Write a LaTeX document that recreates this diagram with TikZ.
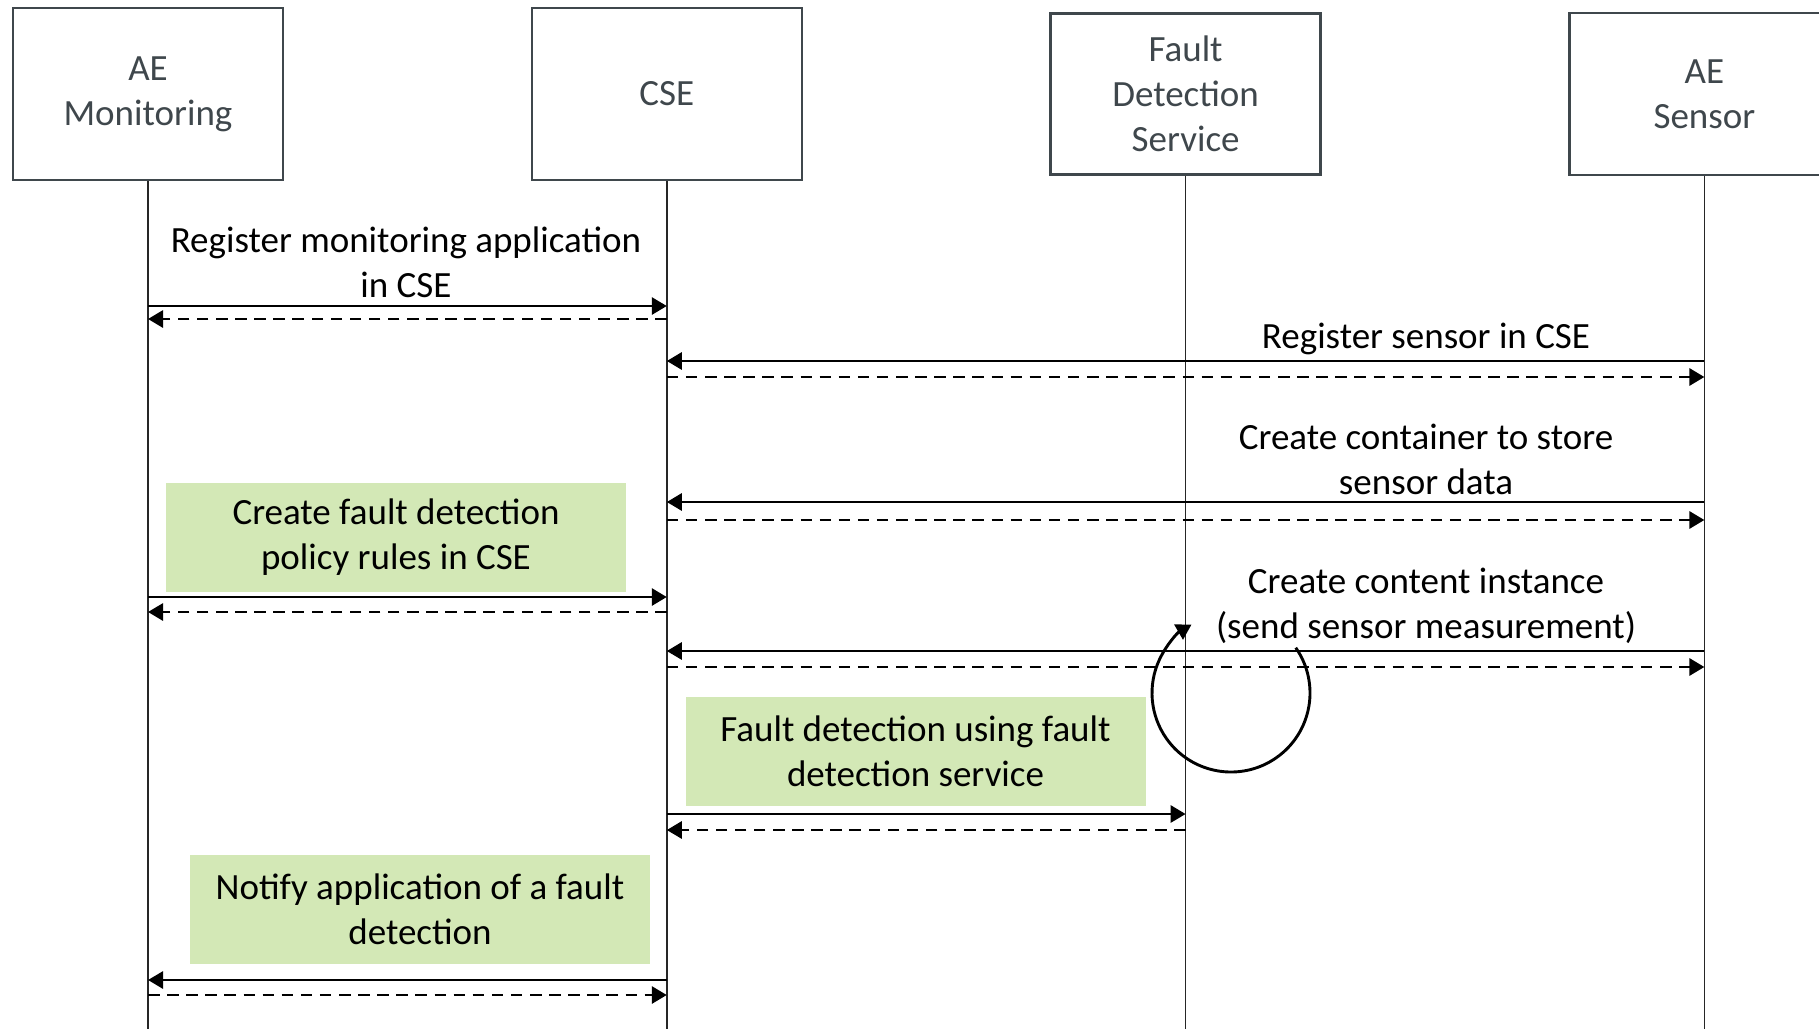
\documentclass[tikz,border=0pt]{standalone}
\usepackage{fontspec}
\setmainfont{Carlito}
\usetikzlibrary{arrows.meta,positioning}

\definecolor{headgray}{HTML}{3F474C}
\definecolor{notegreen}{HTML}{D3E8B6}

\begin{document}
\begin{tikzpicture}[
        x=0.5pt, y=0.5pt,
        node distance=123.2pt,
        every node/.style={font=\fontsize{18.5}{22.6}\selectfont},
        head/.style={rectangle, draw=headgray, line width=1.2pt, text=headgray, minimum width=135pt, minimum height=86pt, align=center},
        lifeline/.style={draw=black!85, line width=0.7pt},
        msg/.style={draw, line width=1.45pt, -{Triangle[length=7.5pt,width=8.5pt]}},
        reply/.style={msg, dash pattern=on 5.75pt off 3.8pt},
        lbl/.style={align=center, inner sep=0pt},
        note/.style={fill=notegreen, minimum width=230pt, minimum height=54.5pt, align=center}
    ]
        \useasboundingbox (0,0) rectangle (1819,-1029);
        \coordinate (BOTTOM) at (0,-1029);

        % Participants
        \node[head] (MON) at (148,-94) {AE\\Monitoring};
        \node[head, right=of MON] (CSE) {CSE};
        \node[head, right=of CSE, minimum height=80.5pt] (FDS) {Fault\\Detection\\Service};
        \node[head, right=of FDS, minimum height=81pt] (SENSOR) {AE\\Sensor};

        % Lifelines
        \draw[lifeline] (MON) -- (MON |- BOTTOM);
        \draw[lifeline] (CSE) -- (CSE |- BOTTOM);
        \draw[lifeline] (FDS) -- (FDS |- BOTTOM);
        \draw[lifeline] (SENSOR) -- (SENSOR |- BOTTOM);

        % Register monitoring application
        \node[lbl] (REGMON) at (406,-262) {Register monitoring application\\in CSE};
        \draw[msg] (MON |- 0,-306) -- (CSE |- 0,-306);
        \draw[reply] (CSE |- 0,-319) -- (MON |- 0,-319);

        % Register sensor
        \node[lbl] (REGSEN) at (1426,-338.5) {Register sensor in CSE};
        \draw[msg] (SENSOR |- 0,-361) -- (CSE |- 0,-361);
        \draw[reply] (CSE |- 0,-377) -- (SENSOR |- 0,-377);

        % Create container
        \node[lbl] (CONT) at (1426,-459) {Create container to store\\sensor data};
        \draw[msg] (SENSOR |- 0,-502) -- (CSE |- 0,-502);
        \draw[reply] (CSE |- 0,-520) -- (SENSOR |- 0,-520);

        % Policy rules
        \node[note] (POLICY) at (396,-537) {Create fault detection\\policy rules in CSE};
        \draw[msg] (MON |- 0,-597) -- (CSE |- 0,-597);
        \draw[reply] (CSE |- 0,-612) -- (MON |- 0,-612);

        % Content instance
        \node[lbl] (CIN) at (1426,-606) {Create content instance\\(send sensor measurement)};
        \draw[msg] (SENSOR |- 0,-651) -- (CSE |- 0,-651);
        \draw[reply] (CSE |- 0,-667) -- (SENSOR |- 0,-667);

        % Loop
        \coordinate (LOOP) at (1231,-693);
        \draw[msg] ([shift={(35:79)}]LOOP) arc[start angle=35, end angle=-240, radius=79];

        % Fault detection
        \node[note] (DETECT) at (915.5,-751.5) {Fault detection using fault\\detection service};
        \draw[msg] (CSE |- 0,-814) -- (FDS |- 0,-814);
        \draw[reply] (FDS |- 0,-830) -- (CSE |- 0,-830);

        % Notify
        \node[note] (NOTIFY) at (420,-909) {Notify application of a fault\\detection};
        \draw[msg] (CSE |- 0,-980) -- (MON |- 0,-980);
        \draw[reply] (MON |- 0,-995) -- (CSE |- 0,-995);

    \end{tikzpicture}
\end{document}
